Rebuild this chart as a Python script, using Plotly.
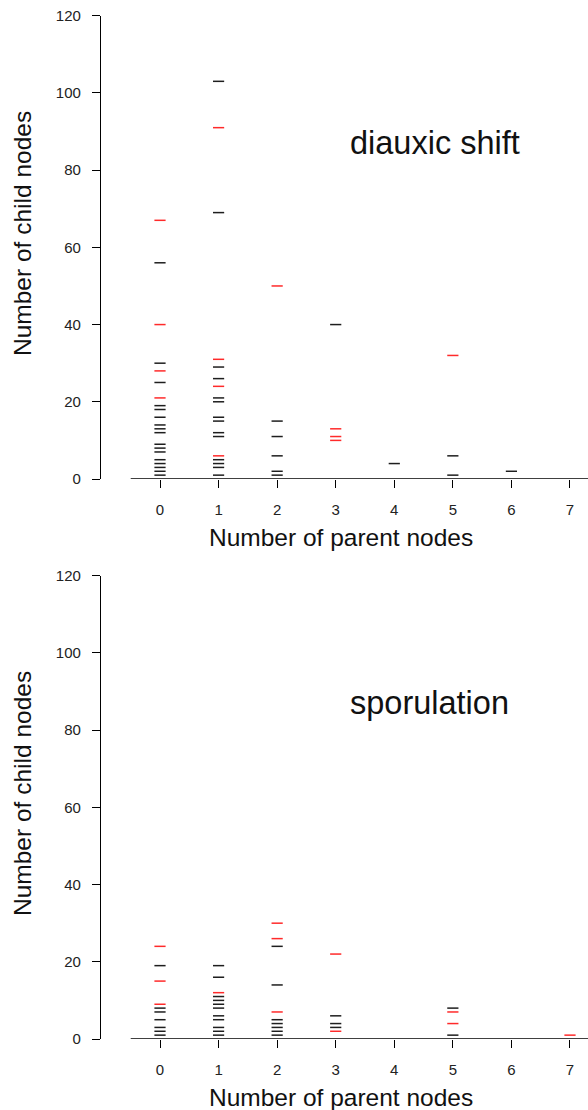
import plotly.graph_objects as go
from plotly.subplots import make_subplots

# ---- data ----
parents = [0, 1, 2, 3, 4, 5, 6, 7]
y_ticks = [0, 20, 40, 60, 80, 100, 120]

# diauxic shift
ds_black_x = [0]*17 + [1]*14 + [2]*5 + [3] + [4] + [5]*2 + [6]
ds_black_y = [56, 30, 25, 19, 18, 16, 14, 13, 12, 9, 8, 7, 5, 4, 3, 2, 1,
              103, 69, 29, 26, 21, 20, 16, 15, 12, 11, 5, 4, 3, 1,
              15, 11, 6, 2, 1,
              40,
              4,
              6, 1,
              2]
ds_red_x = [0]*4 + [1]*4 + [2] + [3]*3 + [5]
ds_red_y = [67, 40, 28, 21,
            91, 31, 24, 6,
            50,
            13, 11, 10,
            32]

# sporulation
sp_black_x = [0]*7 + [1]*11 + [2]*7 + [3]*3 + [5]*2
sp_black_y = [19, 8, 7, 5, 3, 2, 1,
              19, 16, 11, 10, 9, 8, 6, 5, 3, 2, 1,
              24, 14, 5, 4, 3, 2, 1,
              6, 4, 3,
              8, 1]
sp_red_x = [0]*3 + [1] + [2]*3 + [3]*2 + [5]*2 + [7]
sp_red_y = [24, 15, 9,
            12,
            30, 26, 7,
            22, 2,
            7, 4,
            1]

panel_labels = ["diauxic shift", "sporulation"]

# ---- figure ----
W, H = 588, 1110
FONT = "Liberation Sans, Arial, Helvetica, sans-serif"
BLACK = "#1e1e1e"
RED = "#ff2a2a"

fig = make_subplots(rows=2, cols=1)

def dash_trace(xs, ys, color, row):
    fig.add_trace(go.Scatter(
        x=xs, y=ys, mode="markers",
        marker=dict(symbol="line-ew", size=8,
                    line=dict(color=color, width=1.5)),
        showlegend=False, hoverinfo="skip", cliponaxis=False),
        row=row, col=1)

dash_trace(ds_black_x, ds_black_y, BLACK, 1)
dash_trace(ds_red_x, ds_red_y, RED, 1)
dash_trace(sp_black_x, sp_black_y, BLACK, 2)
dash_trace(sp_red_x, sp_red_y, RED, 2)

# pixel geometry
plot_left = 101
px_unit = 58.57
x0_px = 160
x_lo = (plot_left - x0_px) / px_unit
x_hi = (W - x0_px) / px_unit

top_dom = [1 - 479 / H, 1 - 15.7 / H]
bot_dom = [1 - 1039 / H, 1 - 575.7 / H]

common_x = dict(range=[x_lo, x_hi], tickmode="array", tickvals=parents,
                ticktext=[str(p) for p in parents], automargin=False,
                showline=False, zeroline=False, showgrid=False,
                ticks="outside", ticklen=8, tickwidth=1.3, tickcolor="black",
                ticklabelstandoff=9,
                tickfont=dict(family=FONT, size=15, color="#222"))
common_y = dict(range=[0, 120], tickmode="array", tickvals=y_ticks,
                ticktext=[str(v) for v in y_ticks], automargin=False,
                showline=True, linecolor="black", linewidth=1.3,
                zeroline=False, showgrid=False,
                ticks="outside", ticklen=8, tickwidth=1.3, tickcolor="black",
                ticklabelstandoff=8,
                tickfont=dict(family=FONT, size=15, color="#222"))

fig.update_xaxes(**common_x, domain=[0, 1])
fig.update_yaxes(**common_y)
fig.update_layout(yaxis=dict(domain=top_dom), yaxis2=dict(domain=bot_dom))

# detached x-axis lines at y = 0
for xr, yr in (("x", "y"), ("x2", "y2")):
    fig.add_shape(type="line", xref=xr, yref=yr, x0=-0.5, x1=x_hi, y0=0, y1=0,
                  line=dict(color="black", width=1.3), layer="above")

# axis titles and panel labels as annotations
ann = []
lab_x_paper = (22 - plot_left) / (W - plot_left)
xtitle_x_paper = (341 - plot_left) / (W - plot_left)
for i, (yc, xt_y) in enumerate(((234, 538), (794, 1097))):
    ann.append(dict(text="Number of child nodes", xref="paper", yref="paper",
                    x=lab_x_paper, y=1 - yc / H, showarrow=False, textangle=-90,
                    xanchor="center", yanchor="middle",
                    font=dict(family=FONT, size=24.5, color="#111")))
    ann.append(dict(text="Number of parent nodes", xref="paper", yref="paper",
                    x=xtitle_x_paper, y=1 - xt_y / H, showarrow=False,
                    xanchor="center", yanchor="middle",
                    font=dict(family=FONT, size=24.5, color="#111")))
    xr = "x" if i == 0 else "x2"
    yr = "y" if i == 0 else "y2"
    ann.append(dict(text=panel_labels[i], xref=xr, yref=yr,
                    x=(348 - x0_px) / px_unit, y=87, showarrow=False,
                    xanchor="left", yanchor="middle",
                    font=dict(family=FONT, size=32.5, color="#111")))

fig.update_layout(
    width=W, height=H,
    margin=dict(l=plot_left, r=0, t=0, b=0, autoexpand=False),
    paper_bgcolor="white", plot_bgcolor="white",
    annotations=ann,
)

fig.write_html("out.html")
